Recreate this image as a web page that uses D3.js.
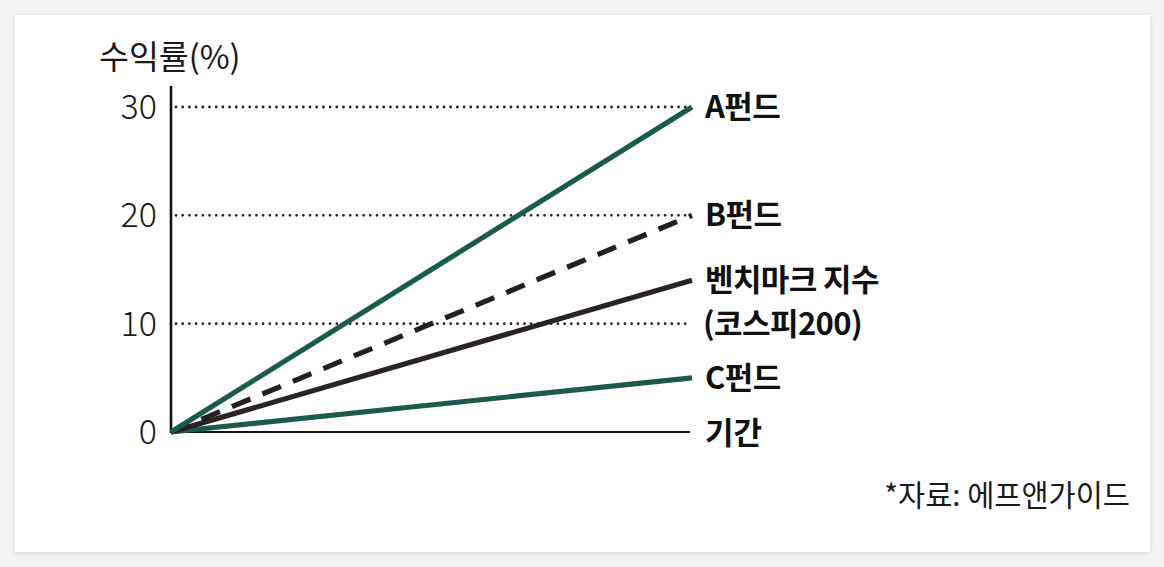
<!DOCTYPE html>
<html><head><meta charset="utf-8">
<script src="https://cdn.jsdelivr.net/npm/d3@7"></script>
<style>
html,body{margin:0;padding:0;background:#f3f3f3;}
svg{display:block;}
</style></head>
<body>
<svg id="chart" width="1164" height="567"></svg>
<script>
const seriesNames = ["A펀드", "B펀드", "벤치마크 지수", "C펀드"];
const startValues = [0, 0, 0, 0];
const endValues = [30, 20, 14, 5];
const seriesColors = ["#1b5b4f", "#231f20", "#2a2223", "#1d5a4e"];
const seriesDashed = [false, true, false, false];
const yTicks = [0, 10, 20, 30];
const gridTicks = [10, 20, 30];
const periods = [0, 1];
const yTitle = "수익률(%)";
const xTitle = "기간";
const benchSub = "(코스피200)";
const source = "*자료: 에프앤가이드";

const svg = d3.select("#chart");
const defs = svg.append("defs");
const f = defs.append("filter").attr("id","sh").attr("x","-5%").attr("y","-5%").attr("width","110%").attr("height","110%");
f.append("feDropShadow").attr("dx",0).attr("dy",1).attr("stdDeviation",2).attr("flood-color","#000").attr("flood-opacity",0.12);
svg.append("rect").attr("x",15).attr("y",15).attr("width",1135).attr("height",537).attr("fill","#fff").attr("filter","url(#sh)");

const x = d3.scaleLinear().domain([0,1]).range([171, 692]);
const y = d3.scaleLinear().domain([0,30]).range([432, 107]);
const font = "'Noto Sans CJK KR','Noto Sans',sans-serif";

// gridlines
svg.append("g").selectAll("line").data(gridTicks).join("line")
  .attr("x1", x(0)+5).attr("x2", x(1)-2)
  .attr("y1", d=>y(d)).attr("y2", d=>y(d))
  .attr("stroke","#222").attr("stroke-width",2.8)
  .attr("stroke-linecap","round").attr("stroke-dasharray","0,6.7");

// y axis
const yAxis = d3.axisLeft(y).tickValues(yTicks).tickSize(0).tickPadding(14);
const gy = svg.append("g").attr("transform",`translate(${x(0)},0)`).call(yAxis);
gy.select(".domain").remove();
gy.selectAll("text").attr("font-family",font).attr("font-size",34).attr("font-weight",300).attr("fill","#1a1a1a").attr("dy","0.34em");
svg.append("line").attr("x1",x(0)).attr("x2",x(0)).attr("y1",86).attr("y2",y(0)+1)
  .attr("stroke","#111").attr("stroke-width",2.6);
// x axis
svg.append("line").attr("x1",x(0)-1).attr("x2",x(1)-2).attr("y1",y(0)).attr("y2",y(0))
  .attr("stroke","#111").attr("stroke-width",2.2);

// series lines
const line = d3.line().x((d,i)=>x(periods[i])).y(d=>y(d));
const data = seriesNames.map((n,i)=>({name:n, vals:[startValues[i], endValues[i]], color:seriesColors[i], dashed:seriesDashed[i]}));
const order = [3,2,1,0];
svg.append("g").selectAll("path").data(order.map(i=>data[i])).join("path")
  .attr("d", d=>line(d.vals))
  .attr("fill","none").attr("stroke",d=>d.color).attr("stroke-width",5.2)
  .attr("stroke-dasharray", d=>d.dashed ? "20,13" : null);

// labels
const lx = 705;
const fs = 31;
svg.append("g").selectAll("text").data(seriesNames.map((t,i)=>({t, v:endValues[i]}))).join("text")
  .attr("x",lx).attr("y",d=>y(d.v)).attr("dy","0.36em")
  .attr("font-family",font).attr("font-size",fs).attr("font-weight",700).attr("fill","#111")
  .attr("letter-spacing",-0.6)
  .text(d=>d.t);
svg.append("text").attr("x",lx-2).attr("y",y(10)).attr("dy","0.36em")
  .attr("font-family",font).attr("font-size",fs).attr("font-weight",700).attr("fill","#111")
  .attr("letter-spacing",-0.6).text(benchSub);
svg.append("text").attr("x",lx).attr("y",y(0)+1).attr("dy","0.36em")
  .attr("font-family",font).attr("font-size",fs).attr("font-weight",700).attr("fill","#111")
  .text(xTitle);

svg.append("text").attr("x",99).attr("y",57).attr("dy","0.36em")
  .attr("font-family",font).attr("font-size",32.5).attr("font-weight",400).attr("fill","#1a1a1a")
  .text(yTitle);
svg.append("text").attr("x",1130).attr("y",495).attr("dy","0.36em").attr("text-anchor","end")
  .attr("font-family",font).attr("font-size",29.5).attr("font-weight",400).attr("fill","#1a1a1a")
  .text(source);
</script>
</body></html>
